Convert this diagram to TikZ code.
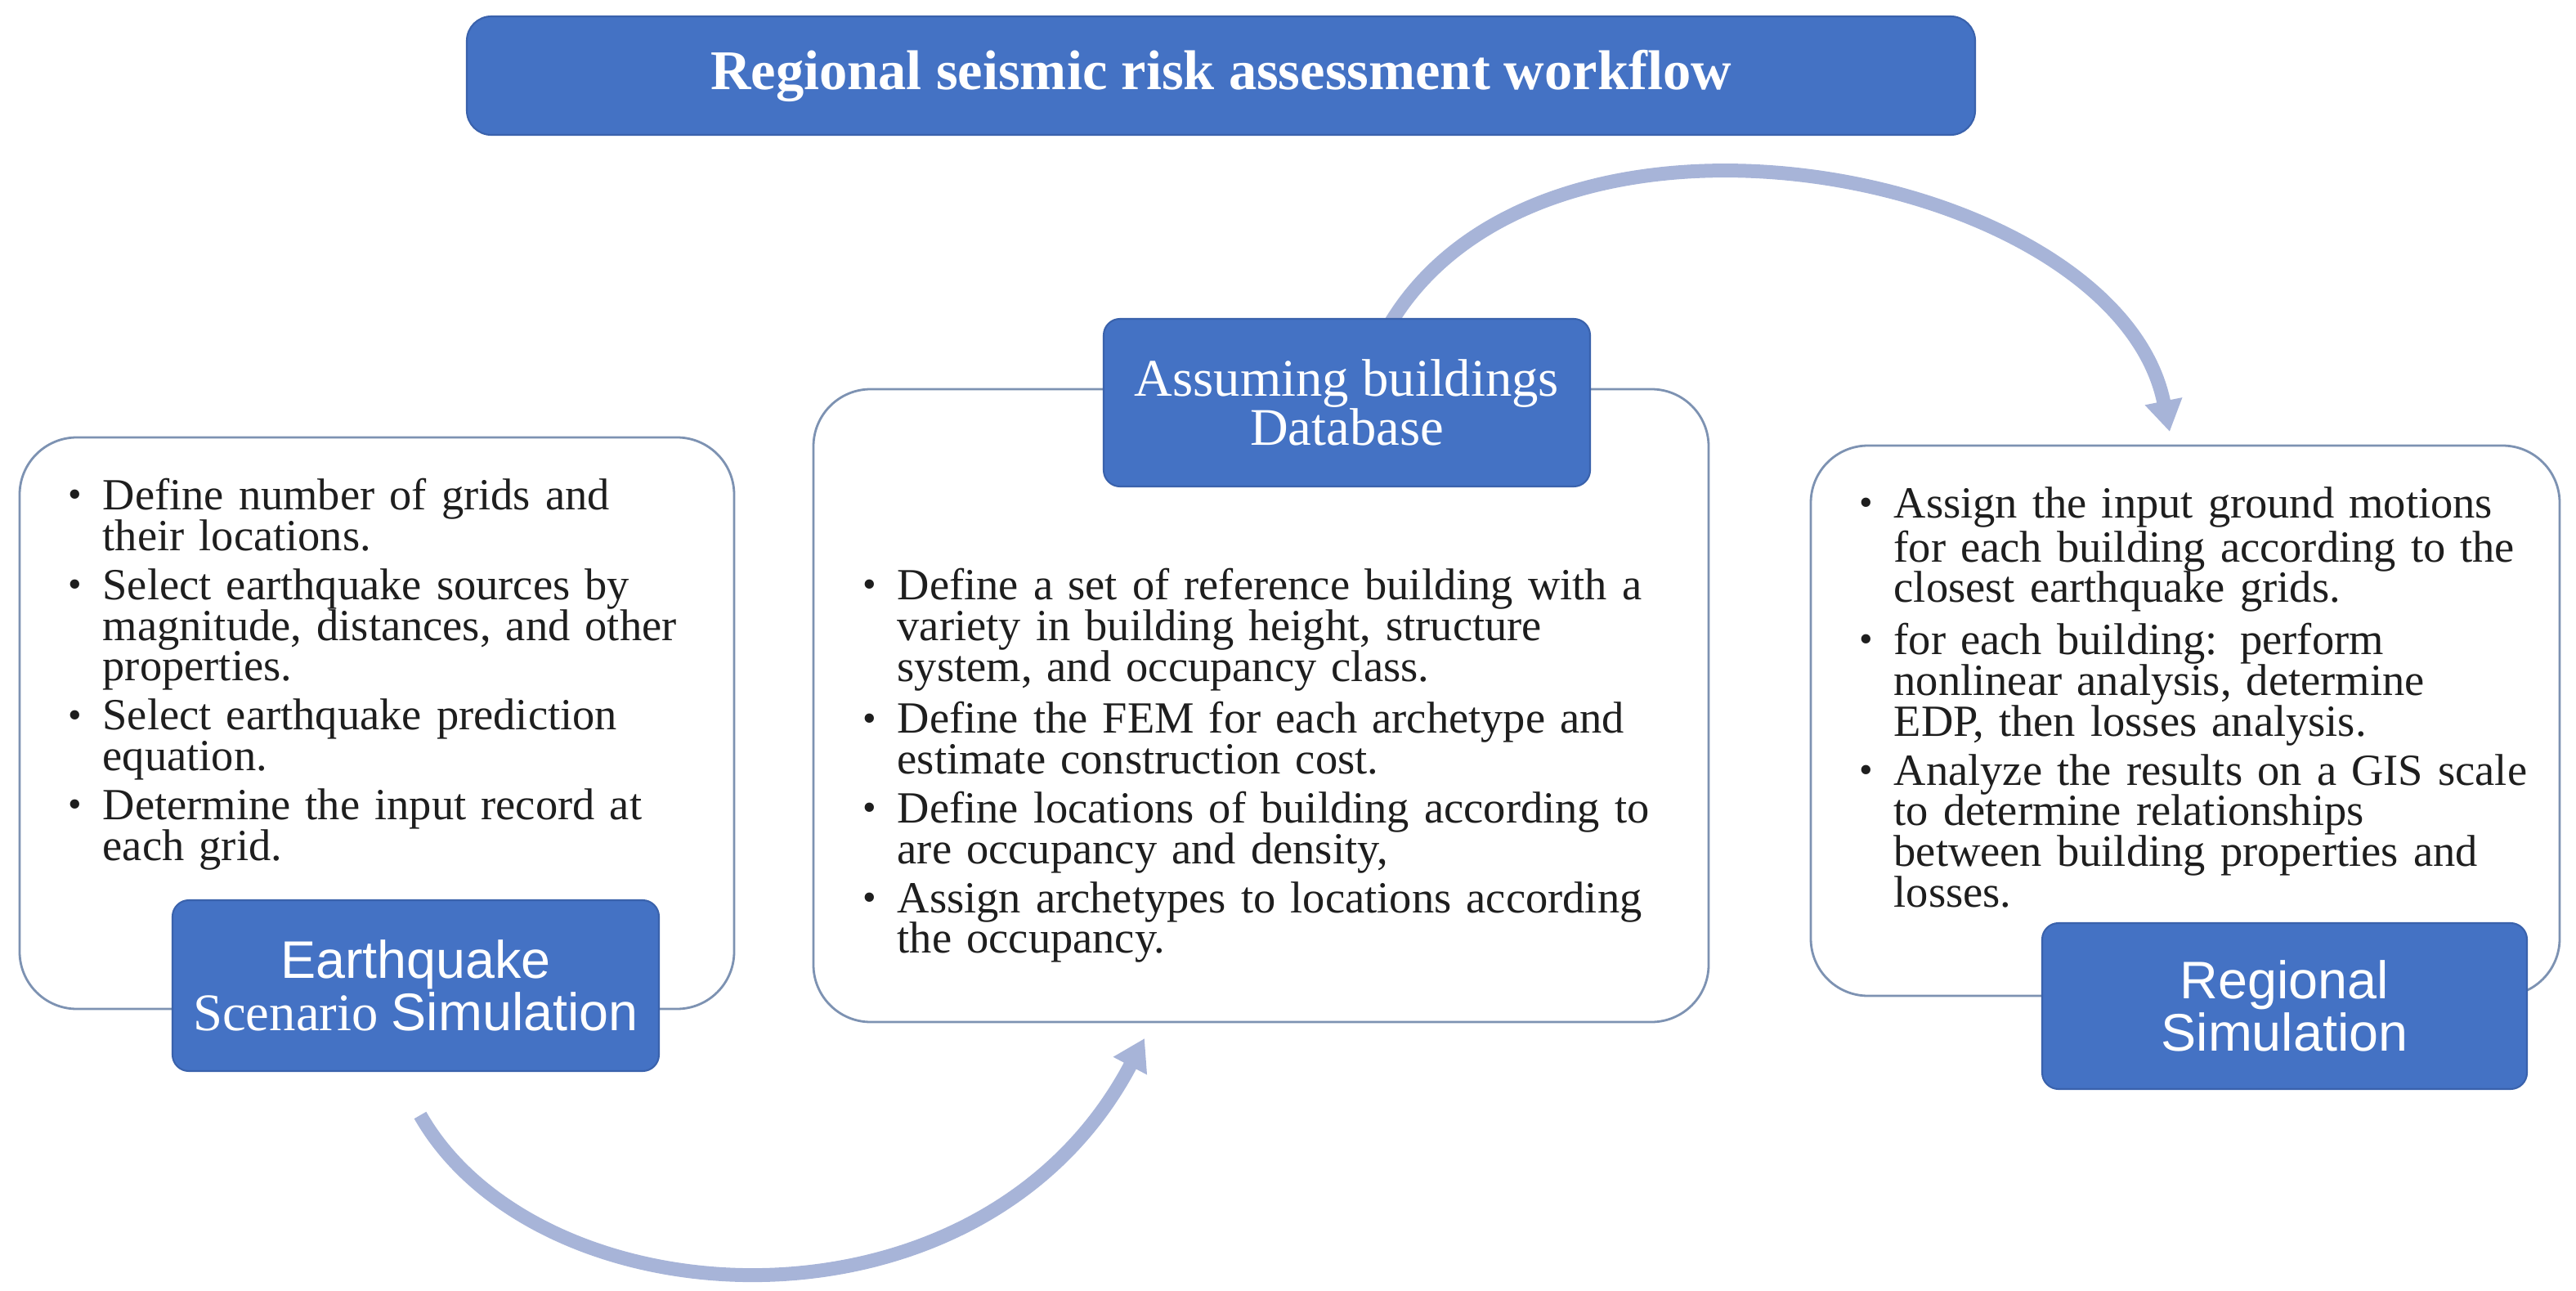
\documentclass[tikz,border=0pt]{standalone}
\usepackage{fontspec}
\setmainfont{Liberation Serif}
\newfontfamily\arialfont{Liberation Sans}
\usetikzlibrary{arrows.meta}
\definecolor{boxblue}{RGB}{68,114,196}
\definecolor{boxedge}{RGB}{58,98,172}
\definecolor{paneledge}{RGB}{125,146,178}
\definecolor{arrowblue}{RGB}{167,180,216}
\definecolor{bodytext}{RGB}{30,30,30}
\newcommand{\bul}{\par\hangindent=0.42cm\hangafter=1\noindent\makebox[0.42cm][l]{\raisebox{0.1ex}{\fontsize{13.5}{13.5}\selectfont\textbullet}}}
\tikzset{
    bluebox/.style={draw=boxedge, line width=0.6pt, fill=boxblue, rounded corners=0.2cm, text=white, align=center, inner sep=0pt},
    panel/.style={draw=paneledge, line width=0.8pt, fill=white, rounded corners=0.7cm, inner sep=0pt},
    flowarrow/.style={draw=arrowblue, line width=0.17cm, -{Triangle[width=0.44cm,length=0.38cm]}},
    bullets/.style={anchor=north west, inner sep=0pt, text=bodytext, font=\fontsize{15.5}{14.2}\selectfont, execute at begin node=\setlength{\parskip}{2.8pt}}
}
\begin{document}
\begin{tikzpicture}
    \useasboundingbox (0,0) rectangle (31.51,-15.79);
    \coordinate (topstart) at (16.98,-4.0);
    \coordinate (topend) at (26.54,-5.28);
    \coordinate (botstart) at (5.14,-13.64);
    \coordinate (botend) at (14.0,-12.70);
    \draw[flowarrow] (topstart) .. controls (18.9,-0.7) and (25.9,-2.1) .. (topend);
    \draw[flowarrow] (botstart) .. controls (6.6,-16.2) and (12.0,-16.5) .. (botend);
    \node[panel, minimum width=8.74cm, minimum height=6.99cm] (eqpanel) at (4.61,-8.845) {};
    \node[panel, minimum width=10.95cm, minimum height=7.74cm] (dbpanel) at (15.425,-8.63) {};
    \node[panel, minimum width=9.16cm, minimum height=6.73cm] (regpanel) at (26.73,-8.815) {};
    \node[bluebox, rounded corners=0.3cm, minimum width=18.45cm, minimum height=1.45cm, font=\fontsize{19.5}{22}\selectfont\bfseries] (title) at (14.935,-0.925) {Regional seismic risk assessment workflow};
    \node[bluebox, minimum width=5.95cm, minimum height=2.09cm, font=\fontsize{18.4}{16.5}\selectfont] (eqbox) at (5.085,-12.055) {{\arialfont Earthquake}\\Scenario {\arialfont Simulation}};
    \node[bluebox, minimum width=5.95cm, minimum height=2.05cm, font=\fontsize{18.4}{17}\selectfont] (dbbox) at (16.475,-4.925) {Assuming buildings\\Database};
    \node[bluebox, minimum width=5.93cm, minimum height=2.03cm, font=\arialfont\fontsize{18.4}{17}\selectfont] (regbox) at (27.945,-12.305) {Regional\\Simulation};
    \node[bullets, text width=8.0cm] (eqtext) at (0.83,-5.63) {
        \bul Define number of grids and\newline their locations.
        \bul Select earthquake sources by\newline magnitude, distances, and other\newline properties.
        \bul Select earthquake prediction\newline equation.
        \bul Determine the input record at\newline each grid.\par};
    \node[bullets, text width=10.2cm] (dbtext) at (10.55,-6.73) {
        \bul Define a set of reference building with a\newline variety in building height, structure\newline system, and occupancy class.
        \bul Define the FEM for each archetype and\newline estimate construction cost.
        \bul Define locations of building according to\newline are occupancy and density,
        \bul Assign archetypes to locations according\newline the occupancy.\par};
    \node[bullets, text width=8.5cm] (regtext) at (22.74,-5.73) {
        \bul Assign the input ground motions\newline for each building according to the\newline closest earthquake grids.
        \bul for each building: perform\newline nonlinear analysis, determine\newline EDP, then losses analysis.
        \bul Analyze the results on a GIS scale\newline to determine relationships\newline between building properties and\newline losses.\par};
\end{tikzpicture}
\end{document}
